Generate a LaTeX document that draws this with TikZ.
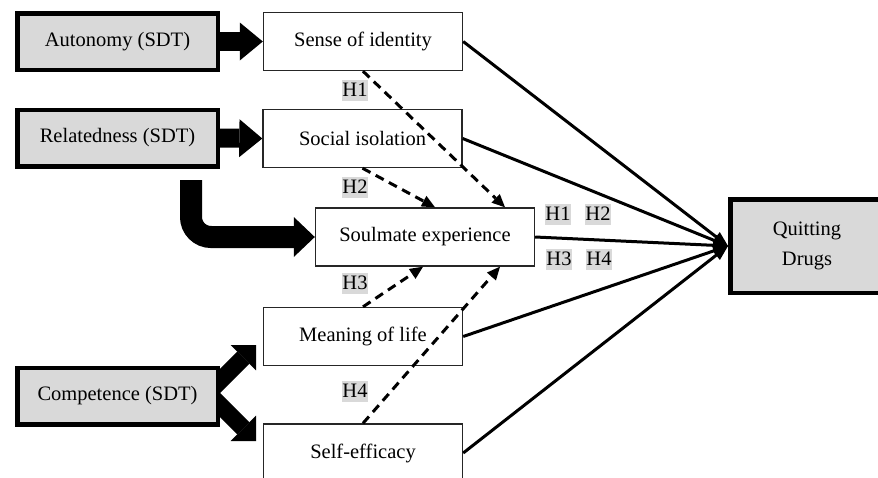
\documentclass[tikz,border=0pt]{standalone}
\usepackage{fontspec}
\setmainfont{Liberation Serif}
\usetikzlibrary{arrows.meta}
\pgfdeclarelayer{background}
\pgfsetlayers{background,main}
\definecolor{boxgray}{RGB}{217,217,217}
\begin{document}
\begin{tikzpicture}[x=1pt,y=-1pt,
  font=\fontsize{20.5}{28}\selectfont,
  src/.style={draw=black, line width=4.5pt, fill=boxgray, minimum width=200.5pt, minimum height=56.5pt, inner sep=0pt},
  mid/.style={draw=black!85, line width=1.4pt, fill=white, minimum width=199pt, minimum height=58pt, inner sep=0pt},
  hlab/.style={fill=boxgray, inner xsep=0.5pt, inner ysep=0pt, minimum height=21pt},
  big/.style={line width=19pt, -{Triangle[length=23pt,width=38pt,line width=0pt]}},
  conn/.style={line width=3pt, -{Triangle[length=15pt,width=12pt,line width=0pt]}},
  hyp/.style={line width=3pt, dash pattern=on 9pt off 6pt, -{Triangle[length=13pt,width=12pt,line width=0pt]}},
]
\useasboundingbox (0,0) rectangle (878,477);

\node[src] (aut) at (117.5,41.5) {Autonomy (SDT)};
\node[src] (rel) at (117.5,138) {Relatedness (SDT)};
\node[src] (com) at (117.5,396) {Competence (SDT)};
\node[mid] (sense) at (363,41.5) {Sense of identity};
\node[mid] (soc) at (362.5,138.5) {Social isolation};
\node[mid, minimum width=219pt] (soul) at (425,237) {Soulmate experience};
\node[mid] (mean) at (363,336.5) {Meaning of life};
\node[mid] (self) at (363,453) {Self-efficacy};
\node[src, minimum width=153.5pt, minimum height=93.5pt, align=center] (quit) at (807,246) {\raisebox{-3pt}{Quitting}\\[2pt]\raisebox{-3pt}{Drugs}};

\node[hlab] (h1a) at (355,90) {H1};
\node[hlab] (h2a) at (355,187) {H2};
\node[hlab] (h3a) at (355,283) {H3};
\node[hlab] (h4a) at (355,391) {H4};
\node[hlab] (h1b) at (558,214) {H1};
\node[hlab] (h2b) at (598,214) {H2};
\node[hlab] (h3b) at (559,259) {H3};
\node[hlab] (h4b) at (599,259) {H4};

\coordinate (bst) at (191,180);
\coordinate (cua) at (206,395);
\coordinate (cut) at (256,345);
\coordinate (cda) at (206,391);
\coordinate (cdt) at (256,441);

\begin{pgfonlayer}{background}
\draw[big] (aut.east) -- (sense.west);
\draw[big] (rel.east) -- (soc.west);
\draw[line width=22pt, rounded corners=20pt, -{Triangle[length=21pt,width=40pt,line width=0pt]}] (bst) -- (bst |- soul.west) -- (soul.west);
\draw[line width=17pt, -{Triangle[length=18pt,width=36pt,line width=0pt]}] (cua) -- (cut);
\draw[line width=17pt, -{Triangle[length=18pt,width=36pt,line width=0pt]}] (cda) -- (cdt);
\end{pgfonlayer}

\draw[conn] (sense.east) -- (quit.west);
\draw[conn] (soc.east) -- (quit.west);
\draw[conn] (soul.east) -- (quit.west);
\draw[conn] (mean.east) -- (quit.west);
\draw[conn] (self.east) -- (quit.west);

\draw[hyp] (sense.south) -- ([xshift=80pt]soul.north);
\draw[hyp] (soc.south) -- ([xshift=10pt]soul.north);
\draw[hyp] (mean.north) -- ([xshift=-2pt]soul.south);
\draw[hyp] (self.north) -- ([xshift=75pt]soul.south);
\end{tikzpicture}
\end{document}
